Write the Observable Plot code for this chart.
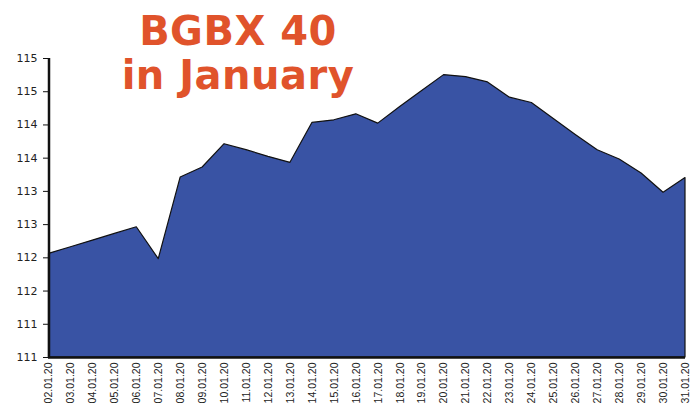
<!DOCTYPE html>
<html>
<head>
<meta charset="utf-8">
<script src="https://cdn.jsdelivr.net/npm/d3@7"></script>
<script src="https://cdn.jsdelivr.net/npm/@observablehq/plot@0.6"></script>
<style>
  html, body { margin: 0; padding: 0; background: #fff; }
  #wrap { position: relative; width: 691px; height: 405px; overflow: hidden; }
  #title { position: absolute; left: 0; top: 9px; width: 476px; text-align: center;
    font-family: "DejaVu Sans", sans-serif; font-weight: bold; font-size: 40px;
    letter-spacing: 0.5px; line-height: 44px; color: #e0532b; pointer-events: none; }
</style>
</head>
<body>
<div id="wrap"><div id="title">BGBX 40<br>in January</div></div>
<script>
const dates = ["02.01.20","03.01.20","04.01.20","05.01.20","06.01.20","07.01.20","08.01.20","09.01.20","10.01.20","11.01.20","12.01.20","13.01.20","14.01.20","15.01.20","16.01.20","17.01.20","18.01.20","19.01.20","20.01.20","21.01.20","22.01.20","23.01.20","24.01.20","25.01.20","26.01.20","27.01.20","28.01.20","29.01.20","30.01.20","31.01.20"];
const values = [112.56,112.66,112.76,112.86,112.96,112.48,113.71,113.86,114.21,114.12,114.02,113.93,114.53,114.57,114.66,114.52,114.77,115.01,115.25,115.22,115.14,114.91,114.83,114.59,114.35,114.12,113.98,113.77,113.48,113.70];
const yTicks = [111,111.5,112,112.5,113,113.5,114,114.5,115,115.5];

const data = dates.map((d, i) => ({date: d, value: values[i]}));

const chart = Plot.plot({
  width: 691,
  height: 405,
  marginTop: 58,
  marginLeft: 48,
  marginRight: 6,
  marginBottom: 48,
  style: {fontFamily: "DejaVu Sans, sans-serif", fontSize: "11px", color: "#222", background: "transparent"},
  x: {type: "point", domain: dates, padding: 0, round: false, range: [48.5, 685], label: null},
  y: {domain: [111, 115.5], range: [357, 58], label: null},
  marks: [
    Plot.areaY(data, {x: "date", y1: 111, y2: "value", fill: "#3953a4", stroke: "#111", strokeWidth: 1.2}),
    Plot.ruleY([111], {stroke: "#111", strokeWidth: 2.5}),
    Plot.ruleX([dates[0]], {y1: 111, y2: 115.5, stroke: "#111", strokeWidth: 2.5}),
    Plot.axisY({ticks: yTicks, tickFormat: d => String(Math.floor(d)), tickSize: 5, tickPadding: 6, stroke: "#111", fill: "#222", label: null}),
    Plot.axisX({tickRotate: -90, tickSize: 0, tickPadding: 5, fill: "#222", label: null, fontFamily: "Liberation Sans, Arial, sans-serif", fontSize: 10.5})
  ]
});
document.getElementById("wrap").prepend(chart);
</script>
</body>
</html>
